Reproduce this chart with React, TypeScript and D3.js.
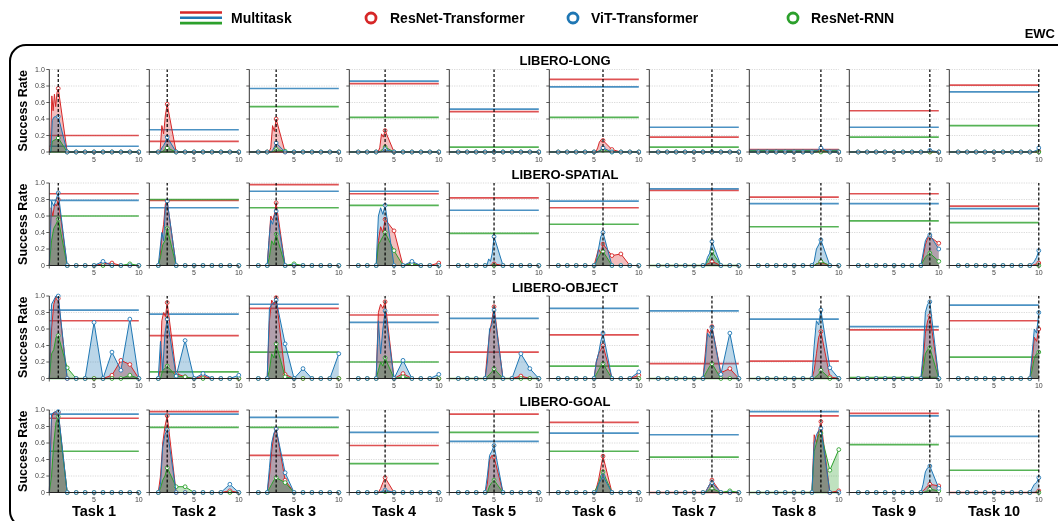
import * as d3 from "d3";

const suites = ["LIBERO-LONG", "LIBERO-SPATIAL", "LIBERO-OBJECT", "LIBERO-GOAL"];
const tasks = ["Task 1", "Task 2", "Task 3", "Task 4", "Task 5", "Task 6", "Task 7", "Task 8", "Task 9", "Task 10"];
const methods = ["ResNet-Transformer", "ViT-Transformer", "ResNet-RNN"];
const colors = ["#d62728", "#1f77b4", "#2ca02c"];
const yTicks = [0, 0.2, 0.4, 0.6, 0.8, 1.0];
const xTicks = [0, 5, 10];

// multitask reference levels per task (RT, VT, RR)
const mtLong = [
  [0.2, 0.13, 0, 0.83, 0.49, 0.88, 0.18, 0.03, 0.5, 0.81],
  [0.07, 0.27, 0.77, 0.86, 0.52, 0.79, 0.3, 0.02, 0.3, 0.73],
  [0, 0, 0.55, 0.42, 0.06, 0.42, 0.06, 0.01, 0.18, 0.32],
];
const mtSpatial = [
  [0.87, 0.79, 0.98, 0.87, 0.82, 0.7, 0.91, 0.83, 0.87, 0.72],
  [0.79, 0.7, 0.9, 0.9, 0.67, 0.78, 0.93, 0.75, 0.75, 0.69],
  [0.6, 0.8, 0.7, 0.73, 0.39, 0.5, 0, 0.47, 0.54, 0.52],
];
const mtObject = [
  [0.7, 0.52, 0.85, 0.77, 0.32, 0.53, 0.18, 0.21, 0.59, 0.7],
  [0.83, 0.78, 0.9, 0.68, 0.73, 0.85, 0.82, 0.72, 0.63, 0.89],
  [0, 0.08, 0.32, 0.2, 0, 0.15, 0, 0, 0.01, 0.26],
];
const mtGoal = [
  [0.9, 0.98, 0.45, 0.57, 0.95, 0.85, 0, 0.93, 0.96, 0],
  [0.95, 0.95, 0.91, 0.73, 0.62, 0.72, 0.7, 0.98, 0.93, 0.68],
  [0.5, 0.79, 0.79, 0.35, 0.73, 0.5, 0.43, 0, 0.58, 0.27],
];

// per task: [checkpoints while training that task, evals after each later task (missing = 0)]
type Run = [number[], number[]];

const longRT: Run[] = [
  [[0.1, 0.68, 0.5, 0.7, 0.55, 0.72, 0.77], []],
  [[0, 0.32, 0.22, 0.45, 0.58], []],
  [[0, 0.05, 0.32, 0.25, 0.4], []],
  [[0, 0.05, 0.22, 0.18, 0.26], []],
  [[0, 0, 0, 0], []],
  [[0, 0.05, 0.12, 0.15, 0.14], [0.03]],
  [[0, 0, 0, 0], []],
  [[0, 0, 0.01, 0.02], []],
  [[0, 0, 0, 0], []],
  [[0, 0, 0, 0.01], []],
];
const longVT: Run[] = [
  [[0, 0.38, 0.42, 0.43, 0.42, 0.43], []],
  [[0, 0.05, 0.08, 0.12, 0.18], []],
  [[0, 0, 0.02, 0.06, 0.11], []],
  [[0, 0, 0.01, 0.03], []],
  [[0, 0, 0, 0], []],
  [[0, 0, 0.03, 0.05], []],
  [[0, 0, 0, 0], []],
  [[0, 0.01, 0.03, 0.05], []],
  [[0, 0, 0, 0.02], []],
  [[0, 0.01, 0.02, 0.05], []],
];
const longRR: Run[] = [
  [[0, 0.13, 0.14, 0.15, 0.16, 0.17], []],
  [[0, 0, 0.02, 0.03, 0.05], []],
  [[0, 0, 0.01, 0.03], [0.01]],
  [[0, 0.01, 0.04, 0.06], []],
  [[0, 0, 0, 0], []],
  [[0, 0.01, 0.02, 0.02], []],
  [[0, 0, 0, 0], []],
  [[0, 0, 0, 0], []],
  [[0, 0, 0, 0], []],
  [[0, 0, 0, 0], []],
];

const spatialRT: Run[] = [
  [[0.7, 0.6, 0.75, 0.72, 0.8], [0, 0, 0, 0, 0.02, 0.03]],
  [[0.1, 0.35, 0.5, 0.75, 0.78], []],
  [[0.3, 0.6, 0.55, 0.62, 0.76], []],
  [[0.3, 0.47, 0.4, 0.56], [0.42, 0, 0.03, 0, 0, 0.03]],
  [[0, 0, 0.01, 0.02], []],
  [[0.1, 0.2, 0.15, 0.26], [0.12, 0.14]],
  [[0, 0.02, 0.03, 0.05], []],
  [[0, 0.02, 0.03, 0.04], []],
  [[0.1, 0.25, 0.33, 0.35], [0.27]],
  [[0, 0.01, 0.02, 0.03], []],
];
const spatialVT: Run[] = [
  [[0.78, 0.72, 0.8, 0.88], [0, 0, 0, 0, 0.05]],
  [[0.2, 0.4, 0.3, 0.7, 0.78], []],
  [[0.3, 0.55, 0.5, 0.6, 0.66], []],
  [[0.6, 0.7, 0.62, 0.73], [0, 0, 0.05]],
  [[0, 0.08, 0.05, 0.15, 0.35], []],
  [[0.05, 0.2, 0.35, 0.4], []],
  [[0, 0.1, 0.15, 0.29], []],
  [[0.05, 0.2, 0.25, 0.31], []],
  [[0.15, 0.3, 0.35, 0.37], [0.2]],
  [[0.02, 0.05, 0.1, 0.18], []],
];
const spatialRR: Run[] = [
  [[0.3, 0.45, 0.5, 0.56], [0, 0, 0, 0, 0, 0, 0, 0.02]],
  [[0.1, 0.25, 0.3, 0.45], []],
  [[0.1, 0.3, 0.25, 0.38], [0, 0.02]],
  [[0.25, 0.3, 0.35, 0.4], [0.18, 0, 0.02]],
  [[0, 0, 0, 0], []],
  [[0.05, 0.1, 0.15, 0.17], []],
  [[0, 0.05, 0.1, 0.17], []],
  [[0, 0.02, 0.03, 0.05], []],
  [[0.05, 0.1, 0.13, 0.15], [0.05]],
  [[0, 0, 0, 0], []],
];

const objectRT: Run[] = [
  [[0.6, 0.9, 1.0, 0.97], [0, 0, 0, 0, 0, 0.04, 0.22, 0.17]],
  [[0.1, 0.7, 0.8, 0.75, 0.92], [0.06, 0.02, 0, 0.03]],
  [[0.7, 0.95, 0.9, 0.98], [0.05]],
  [[0.8, 0.9, 0.85, 0.93], [0, 0.06]],
  [[0.3, 0.55, 0.7, 0.87], [0, 0, 0.03]],
  [[0.2, 0.3, 0.35, 0.4], [0, 0, 0, 0.04]],
  [[0.3, 0.6, 0.55, 0.63], [0.07, 0.12]],
  [[0.1, 0.3, 0.5, 0.57], [0.02]],
  [[0.2, 0.55, 0.7, 0.76], []],
  [[0.2, 0.5, 0.45, 0.6], []],
];
const objectVT: Run[] = [
  [[0.9, 0.95, 1.0, 1.0], [0, 0, 0, 0.68, 0, 0.32, 0.1, 0.72]],
  [[0.45, 0.1, 0.55, 0.72], [0.03, 0.46, 0, 0.06, 0, 0, 0, 0.04]],
  [[0.85, 0.9, 0.92, 0.95], [0.42, 0, 0.12, 0, 0, 0, 0.3]],
  [[0.7, 0.3, 0.6, 0.82], [0, 0.22, 0, 0, 0, 0.05]],
  [[0.2, 0.6, 0.65, 0.83], [0, 0, 0.3, 0.12]],
  [[0.2, 0.3, 0.45, 0.55], [0, 0, 0, 0.08]],
  [[0.2, 0.55, 0.5, 0.62], [0.05, 0.55]],
  [[0.4, 0.7, 0.65, 0.83], [0.13]],
  [[0.3, 0.8, 0.9, 0.93], []],
  [[0.3, 0.6, 0.55, 0.8], []],
];
const objectRR: Run[] = [
  [[0.3, 0.35, 0.5, 0.52], [0.13, 0, 0, 0, 0, 0, 0, 0.04]],
  [[0, 0.1, 0.12, 0.15], [0.03, 0.02]],
  [[0.1, 0.3, 0.25, 0.42], [0.02]],
  [[0.1, 0.2, 0.15, 0.25], [0, 0.02]],
  [[0.02, 0.05, 0.08, 0.12], []],
  [[0.05, 0.1, 0.15, 0.18], []],
  [[0.05, 0.1, 0.15, 0.18], []],
  [[0, 0.03, 0.05, 0.1], []],
  [[0.1, 0.3, 0.35, 0.37], []],
  [[0.1, 0.25, 0.3, 0.32], []],
];

const goalRT: Run[] = [
  [[0.9, 0.97, 0.98, 0.97], []],
  [[0.2, 0.6, 0.8, 0.93], [0, 0, 0, 0, 0, 0, 0.02]],
  [[0.2, 0.5, 0.7, 0.77], [0.15]],
  [[0, 0.05, 0.12, 0.18], []],
  [[0.1, 0.4, 0.45, 0.43], []],
  [[0.05, 0.15, 0.3, 0.44], []],
  [[0, 0.05, 0.1, 0.15], []],
  [[0.7, 0.6, 0.75, 0.86], [0, 0.02]],
  [[0.02, 0.05, 0.08, 0.1], [0.08]],
  [[0, 0, 0.01, 0.02], []],
];
const goalVT: Run[] = [
  [[0.95, 0.97, 0.98, 0.98], []],
  [[0.1, 0.55, 0.7, 0.76], [0, 0, 0, 0, 0, 0, 0.1]],
  [[0.3, 0.6, 0.72, 0.77], [0.24]],
  [[0, 0.01, 0.02, 0.03], []],
  [[0.2, 0.45, 0.5, 0.57], []],
  [[0, 0.1, 0.15, 0.2], []],
  [[0, 0.05, 0.1, 0.12], []],
  [[0.6, 0.7, 0.75, 0.78], []],
  [[0.1, 0.25, 0.3, 0.32], [0.05]],
  [[0.05, 0.1, 0.12, 0.18], []],
];
const goalRR: Run[] = [
  [[0.2, 0.6, 0.85, 0.92], []],
  [[0.05, 0.15, 0.2, 0.3], [0.07, 0.07]],
  [[0.05, 0.1, 0.15, 0.18], [0.12]],
  [[0, 0, 0.01, 0.01], []],
  [[0, 0.08, 0.12, 0.15], []],
  [[0.05, 0.1, 0.2, 0.25], []],
  [[0, 0.02, 0.04, 0.05], [0, 0.02]],
  [[0.5, 0.6, 0.7, 0.72], [0.27, 0.52]],
  [[0, 0.01, 0.02, 0.04], [0.02]],
  [[0, 0, 0, 0], []],
];

const runsBySuite = [
  [longRT, longVT, longRR],
  [spatialRT, spatialVT, spatialRR],
  [objectRT, objectVT, objectRR],
  [goalRT, goalVT, goalRR],
];
const mtBySuite = [mtLong, mtSpatial, mtObject, mtGoal];

const FONT = "'Liberation Sans', Arial, Helvetica, sans-serif";
const PANEL_W = 89.5;
const PANEL_H = 82.5;
const PANEL_LEFT = 49.3;
const PANEL_STEP = 100;
const ROW_TOPS = [69.5, 183, 296, 410];

type Pt = { x: number; y: number; mark: boolean };

function buildPoints(k: number, run: Run): Pt[] {
  const [train, post] = run;
  const pts: Pt[] = [];
  for (let x = 0; x < k; x++) pts.push({ x, y: 0, mark: x >= 1 });
  const n = train.length;
  train.forEach((v, i) => pts.push({ x: k - 1 + (i + 1) / n, y: v, mark: i === n - 1 }));
  for (let x = k + 1; x <= 10; x++) pts.push({ x, y: post[x - k - 1] ?? 0, mark: true });
  return pts;
}

function Panel({ row, col }: { row: number; col: number }) {
  const k = col + 1;
  const x = d3.scaleLinear().domain([0, 10]).range([0, PANEL_W]);
  const y = d3.scaleLinear().domain([0, 1]).range([PANEL_H, 0]);
  const area = d3.area<Pt>().x((d) => x(d.x)).y0(y(0)).y1((d) => y(d.y));
  const line = d3.line<Pt>().x((d) => x(d.x)).y((d) => y(d.y));
  const runs = runsBySuite[row].map((r) => buildPoints(k, r[col]));
  const mt = mtBySuite[row].map((m) => m[col]);
  const order = [0, 2, 1];
  const tx = PANEL_LEFT + col * PANEL_STEP;
  const ty = ROW_TOPS[row];

  return (
    <g transform={`translate(${tx},${ty})`}>
      {yTicks.filter((t) => t > 0).map((t) => (
        <line key={t} x1={0} x2={PANEL_W} y1={y(t)} y2={y(t)} stroke="#c8c8c8" strokeWidth={0.7} strokeDasharray="1.2,1.2" />
      ))}
      {mt.map((v, i) => (
        <line key={i} x1={0} x2={PANEL_W} y1={y(v)} y2={y(v)} stroke={colors[i]} strokeWidth={1.7} strokeOpacity={0.8} />
      ))}
      <g style={{ isolation: "isolate" }}>
        {order.map((i) => (
          <path key={i} d={area(runs[i]) || ""} fill={colors[i]} fillOpacity={0.3} style={{ mixBlendMode: "multiply" }} />
        ))}
      </g>
      {order.map((i) => (
        <g key={i}>
          <path d={line(runs[i]) || ""} fill="none" stroke={colors[i]} strokeWidth={1} />
          {runs[i].filter((d) => d.mark).map((d, j) => (
            <circle key={j} cx={x(d.x)} cy={y(d.y)} r={1.9} fill="white" stroke={colors[i]} strokeWidth={0.9} />
          ))}
        </g>
      ))}
      <line x1={x(k)} x2={x(k)} y1={y(0)} y2={y(1)} stroke="black" strokeWidth={1.2} strokeDasharray="3,2" />
      {/* axes */}
      <line x1={0} x2={0} y1={y(0)} y2={y(1)} stroke="#333" strokeWidth={1} />
      <line x1={0} x2={PANEL_W} y1={y(0)} y2={y(0)} stroke="#222" strokeWidth={1} />
      {yTicks.map((t) => (
        <g key={t}>
          <line x1={-3} x2={0} y1={y(t)} y2={y(t)} stroke="#333" strokeWidth={0.8} />
          {col === 0 && (
            <text x={-4.5} y={y(t)} dy="0.33em" textAnchor="end" fontSize={7} fill="#444" fontFamily={FONT}>
              {t === 0 ? "0" : d3.format(".1f")(t)}
            </text>
          )}
        </g>
      ))}
      {xTicks.map((t) => (
        <g key={t}>
          <line x1={x(t)} x2={x(t)} y1={y(0)} y2={y(0) + 3} stroke="#333" strokeWidth={0.8} />
          {t > 0 && (
            <text x={x(t)} y={y(0) + 9.5} textAnchor="middle" fontSize={7} fill="#444" fontFamily={FONT}>
              {t}
            </text>
          )}
        </g>
      ))}
    </g>
  );
}

export default function App() {
  const legendCircles = [
    { cx: 371, tx: 390 },
    { cx: 573, tx: 591 },
    { cx: 793, tx: 811 },
  ];
  return (
    <svg width={1058} height={521} style={{ position: "absolute", left: 0, top: 0, background: "white" }} fontFamily={FONT}>
      {/* legend */}
      {colors.map((c, i) => (
        <line key={c} x1={180} x2={222} y1={12.5 + i * 5.3} y2={12.5 + i * 5.3} stroke={c} strokeWidth={2.6} />
      ))}
      <text x={231} y={23} fontSize={14} fontWeight="bold">Multitask</text>
      {methods.map((m, i) => (
        <g key={m}>
          <circle cx={legendCircles[i].cx} cy={18} r={5} fill="white" stroke={colors[i]} strokeWidth={2.8} />
          <text x={legendCircles[i].tx} y={23} fontSize={14} fontWeight="bold">{m}</text>
        </g>
      ))}
      <text x={1055} y={38} textAnchor="end" fontSize={13} fontWeight="bold">EWC</text>
      <rect x={10} y={45} width={1070} height={482} rx={16} fill="none" stroke="black" strokeWidth={2} />
      {suites.map((s, r) => (
        <g key={s}>
          <text x={565} y={ROW_TOPS[r] - 4.5} textAnchor="middle" fontSize={13} fontWeight="bold">{s}</text>
          <text
            transform={`translate(27,${ROW_TOPS[r] + PANEL_H / 2}) rotate(-90)`}
            textAnchor="middle"
            fontSize={12.5}
            fontWeight="bold"
          >
            Success Rate
          </text>
          {tasks.map((_, c) => (
            <Panel key={c} row={r} col={c} />
          ))}
        </g>
      ))}
      {tasks.map((t, c) => (
        <text key={t} x={PANEL_LEFT + c * PANEL_STEP + PANEL_W / 2} y={516} textAnchor="middle" fontSize={14.5} fontWeight="bold">
          {t}
        </text>
      ))}
    </svg>
  );
}
